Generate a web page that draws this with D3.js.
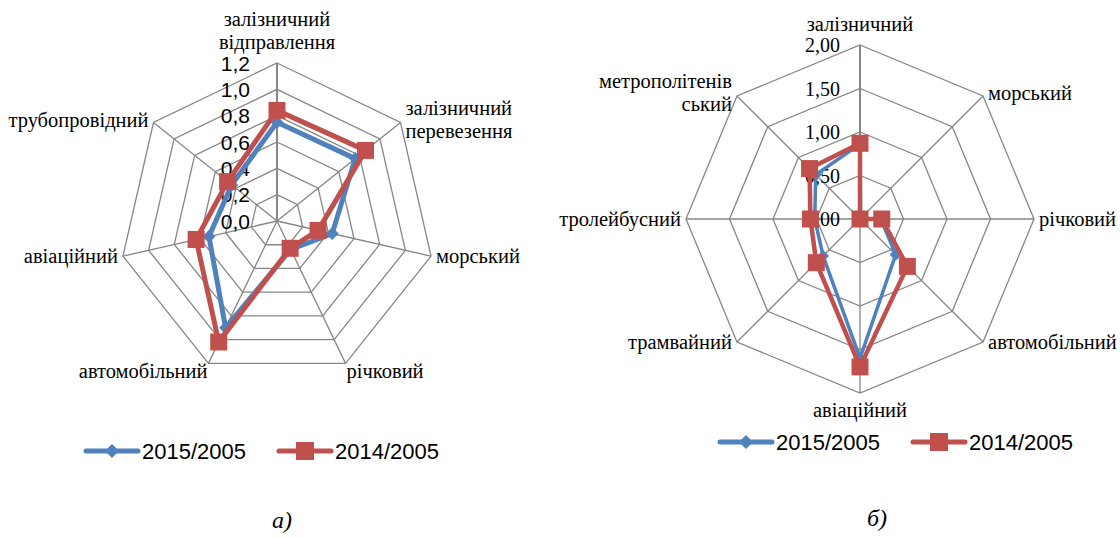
<!DOCTYPE html>
<html>
<head>
<meta charset="utf-8">
<script src="https://cdn.jsdelivr.net/npm/d3@7"></script>
<style>
  body { margin: 0; background: #fff; }
  svg { display: block; }
</style>
</head>
<body>
<svg id="chart"></svg>
<script>
// --- data ---
const seriesNames = ['2015/2005', '2014/2005'];
const captions = ['а)', 'б)'];

// chart a)
const catsA = ['залізничний\nвідправлення', 'залізничний\nперевезення', 'морський', 'річковий',
               'автомобільний', 'авіаційний', 'трубопровідний'];
const valsA2015 = [0.75, 0.76, 0.43, 0.24, 0.90, 0.53, 0.44];
const valsA2014 = [0.84, 0.86, 0.32, 0.23, 1.02, 0.63, 0.48];
const ticksA = [0, 0.2, 0.4, 0.6, 0.8, 1.0, 1.2];

// chart б)
const catsB = ['залізничний', 'морський', 'річковий', 'автомобільний', 'авіаційний',
               'трамвайний', 'тролейбусний', 'метрополітенів\nський'];
const valsB2015 = [0.86, 0.01, 0.24, 0.58, 1.60, 0.60, 0.52, 0.72];
const valsB2014 = [0.87, 0.00, 0.25, 0.77, 1.70, 0.71, 0.57, 0.82];
const ticksB = [0, 0.5, 1.0, 1.5, 2.0];

const blue = '#4F81BD', red = '#C0504D', grey = '#868686';
const serifFont = 'Liberation Serif';
const sansFont = 'Liberation Sans';
const commaLocale = d3.formatLocale({decimal: ',', thousands: ' ', grouping: [3], currency: ['', '']});

class RadarChart {
    constructor(_config, _data) {
        this.config = {
            parentElement: _config.parentElement,
            cx: _config.cx,
            cy: _config.cy,
            radius: _config.radius,
            ticks: _config.ticks,
            tickFormat: _config.tickFormat,
            tickFont: _config.tickFont,
            tickSize: _config.tickSize,
            tickOffset: _config.tickOffset,
            labelSize: _config.labelSize || 17,
            lineHeight: _config.lineHeight || 23,
            blueWidth: _config.blueWidth || 5,
            redWidth: _config.redWidth || 5,
            squareSide: _config.squareSide || 16,
            diamondDiag: _config.diamondDiag || 13
        }
        this.data = _data;
        this.initVis();
    }

    initVis() {
        let vis = this;
        let c = vis.config;

        vis.n = vis.data.categories.length;
        vis.chart = d3.select(c.parentElement).append('g')
            .attr('transform', `translate(${c.cx},${c.cy})`);

        vis.rScale = d3.scaleLinear()
            .domain([0, d3.max(c.ticks)])
            .range([0, c.radius]);

        vis.aScale = d3.scaleLinear()
            .domain([0, vis.n])
            .range([0, 2 * Math.PI]);

        vis.renderVis();
    }

    renderVis() {
        let vis = this;
        let c = vis.config;
        let idx = d3.range(vis.n);
        let R = vis.rScale.range()[1];

        // grid rings
        vis.chart.selectAll('.ring')
            .data(c.ticks.filter(t => t > 0))
            .join('path')
                .attr('class', 'ring')
                .attr('d', t => d3.lineRadial()
                    .angle(i => vis.aScale(i))
                    .radius(() => vis.rScale(t))
                    .curve(d3.curveLinearClosed)(idx))
                .attr('fill', 'none')
                .attr('stroke', grey)
                .attr('stroke-width', 1.3);

        // spokes
        vis.chart.selectAll('.spoke')
            .data(idx)
            .join('line')
                .attr('class', 'spoke')
                .attr('x1', 0).attr('y1', 0)
                .attr('x2', i => d3.pointRadial(vis.aScale(i), R)[0])
                .attr('y2', i => d3.pointRadial(vis.aScale(i), R)[1])
                .attr('stroke', grey)
                .attr('stroke-width', i => i == 0 ? 2 : 1.3);

        // value tick labels along the top axis
        vis.chart.selectAll('.tick-label')
            .data(c.ticks)
            .join('text')
                .attr('class', 'tick-label')
                .attr('x', -c.tickOffset)
                .attr('y', t => -vis.rScale(t))
                .attr('text-anchor', 'end')
                .attr('dominant-baseline', 'central')
                .attr('font-family', c.tickFont)
                .attr('font-size', c.tickSize)
                .text(c.tickFormat);

        // category labels
        vis.chart.selectAll('.cat-label')
            .data(vis.data.categories)
            .join('text')
                .attr('class', 'cat-label')
                .attr('font-family', serifFont)
                .attr('font-size', c.labelSize)
                .each(function(d, i) {
                    let a = vis.aScale(i);
                    let [vx, vy] = d3.pointRadial(a, R);
                    let s = Math.sin(a), co = Math.cos(a);
                    let lines = d.split('\n');
                    let anchor = s > 0.1 ? 'start' : s < -0.1 ? 'end' : 'middle';
                    let x = vx, y0;
                    if (anchor == 'middle') {
                        y0 = co > 0 ? vy - 21 - (lines.length - 1) * c.lineHeight : vy + 17;
                    } else {
                        let pad = co < -0.8 ? 1 : 5;
                        x = vx + (anchor == 'start' ? pad : -pad);
                        y0 = vy - (lines.length - 1) * c.lineHeight / 2 + (co < -0.8 ? 8 : 0) - (co > 0.5 ? 3 : 0);
                    }
                    d3.select(this)
                        .attr('text-anchor', anchor)
                        .selectAll('tspan')
                        .data(lines)
                        .join('tspan')
                            .attr('x', x)
                            .attr('y', (l, j) => y0 + j * c.lineHeight)
                            .attr('dominant-baseline', 'central')
                            .text(l => l);
                });

        // series: blue first, red on top
        let series = [
            {values: vis.data.v2015, color: blue, width: c.blueWidth, symbol: d3.symbolDiamond2,
             size: Math.pow(c.diamondDiag / 1.2525, 2)},
            {values: vis.data.v2014, color: red, width: c.redWidth, symbol: d3.symbolSquare2,
             size: Math.pow(c.squareSide / 0.8862, 2)}
        ];

        let line = d3.lineRadial()
            .angle((d, i) => vis.aScale(i))
            .radius(d => vis.rScale(d))
            .curve(d3.curveLinearClosed);

        series.forEach(sr => {
            let g = vis.chart.append('g');
            g.append('path')
                .attr('d', line(sr.values))
                .attr('fill', 'none')
                .attr('stroke', sr.color)
                .attr('stroke-width', sr.width)
                .attr('stroke-linejoin', 'round');
            g.selectAll('path.marker')
                .data(sr.values)
                .join('path')
                    .attr('class', 'marker')
                    .attr('transform', (d, i) => {
                        let p = d3.pointRadial(vis.aScale(i), vis.rScale(d));
                        return `translate(${p[0]},${p[1]})`;
                    })
                    .attr('d', d3.symbol().type(sr.symbol).size(sr.size))
                    .attr('fill', sr.color);
        });
    }
}

const svg = d3.select('#chart')
    .attr('width', 1120)
    .attr('height', 538);

svg.append('rect').attr('width', 1120).attr('height', 538).attr('fill', '#fff');

new RadarChart({
    parentElement: '#chart',
    cx: 277, cy: 221, radius: 158,
    ticks: ticksA,
    tickFormat: commaLocale.format('.1f'),
    tickFont: sansFont,
    tickSize: 21,
    tickOffset: 27,
    labelSize: 20.5,
    blueWidth: 5, redWidth: 5, squareSide: 17, diamondDiag: 13
}, {categories: catsA, v2015: valsA2015, v2014: valsA2014});

new RadarChart({
    parentElement: '#chart',
    cx: 860, cy: 219, radius: 174,
    ticks: ticksB,
    tickFormat: commaLocale.format('.2f'),
    tickFont: serifFont,
    tickSize: 20,
    tickOffset: 20,
    labelSize: 20.5,
    blueWidth: 3.5, redWidth: 4.5, squareSide: 17, diamondDiag: 12
}, {categories: catsB, v2015: valsB2015, v2014: valsB2014});

// legends
function drawLegend(x, y) {
    let g = svg.append('g').attr('transform', `translate(${x},${y})`);
    let items = [
        {name: seriesNames[0], color: blue, symbol: d3.symbolDiamond2, size: Math.pow(14 / 1.2525, 2), dx: 0},
        {name: seriesNames[1], color: red, symbol: d3.symbolSquare2, size: Math.pow(18 / 0.8862, 2), dx: 193}
    ];
    let it = g.selectAll('g').data(items).join('g')
        .attr('transform', d => `translate(${d.dx},0)`);
    it.append('line')
        .attr('x1', 0).attr('x2', 52)
        .attr('stroke', d => d.color)
        .attr('stroke-width', 5)
        .attr('stroke-linecap', 'round');
    it.append('path')
        .attr('transform', 'translate(26,0)')
        .attr('d', d => d3.symbol().type(d.symbol).size(d.size)())
        .attr('fill', d => d.color);
    it.append('text')
        .attr('x', 56)
        .attr('dominant-baseline', 'central')
        .attr('font-family', sansFont)
        .attr('font-size', 22)
        .text(d => d.name);
}
drawLegend(86, 451);
drawLegend(720, 442);

// captions
svg.selectAll('.caption')
    .data(captions)
    .join('text')
        .attr('class', 'caption')
        .attr('x', (d, i) => [282, 877][i])
        .attr('y', (d, i) => [520, 518][i])
        .attr('text-anchor', 'middle')
        .attr('dominant-baseline', 'central')
        .attr('font-family', serifFont)
        .attr('font-style', 'italic')
        .attr('font-size', 24)
        .text(d => d);
</script>
</body>
</html>
